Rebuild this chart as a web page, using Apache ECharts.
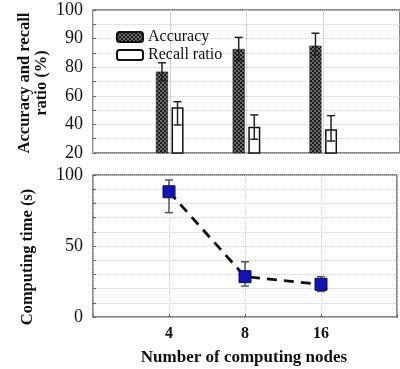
<!DOCTYPE html>
<html><head><meta charset="utf-8">
<script src="https://cdn.jsdelivr.net/npm/echarts@6/dist/echarts.min.js"></script>
<style>html,body{margin:0;padding:0;background:#fff}#c{width:400px;height:369px}</style>
</head><body><div id="c"></div>
<script>
// ---- data ----
const nodeLabels = ['4', '8', '16'];
const nodePos = [1, 2, 3];
const accuracy = [65.5, 78.2, 80.0];
const accuracyHigh = [70.5, 84.7, 87.0];
const accuracyLow = [60.5, 71.7, 74.8];
const recall = [45.6, 34.7, 33.3];
const recallHigh = [48.7, 41.3, 40.9];
const recallLow = [35.7, 27.7, 26.7];
const time = [88.2, 28.4, 23.0];
const timeHigh = [96.5, 38.9, 28.4];
const timeLow = [73.5, 21.8, 18.0];
const topTickLabels = ['20', '40', '60', '80', '90', '100'];

// ---- pattern for accuracy bars ----
const pc = document.createElement('canvas');
pc.width = 4; pc.height = 4;
const g = pc.getContext('2d');
g.fillStyle = '#1e1e1e'; g.fillRect(0, 0, 4, 4);
g.fillStyle = '#6a6a6a'; g.fillRect(0, 0, 2, 2); g.fillRect(2, 2, 2, 2);
const pattern = { image: pc, repeat: 'repeat' };

const serif = '"Liberation Serif", "Times New Roman", serif';
const gridLine = { show: true, lineStyle: { color: '#cfcfcf', type: 'dotted', width: 1 } };

function errRender(offset, color) {
  return function (params, api) {
    const x = api.value(0);
    const lo = api.coord([x, api.value(1)]);
    const hi = api.coord([x, api.value(2)]);
    const cx = lo[0] + offset;
    const st = { stroke: color, lineWidth: 1.5 };
    return { type: 'group', children: [
      { type: 'line', shape: { x1: cx, y1: lo[1], x2: cx, y2: hi[1] }, style: st },
      { type: 'line', shape: { x1: cx - 4, y1: hi[1], x2: cx + 4, y2: hi[1] }, style: st },
      { type: 'line', shape: { x1: cx - 4, y1: lo[1], x2: cx + 4, y2: lo[1] }, style: st }
    ] };
  };
}

const chart = echarts.init(document.getElementById('c'), null, { renderer: 'canvas' });
chart.setOption({
  animation: false,
  backgroundColor: '#fff',
  grid: [
    { left: 93, top: 10, width: 312, height: 143, show: true, borderColor: '#666', borderWidth: 1.5 },
    { left: 93, top: 175, width: 312, height: 142, show: true, borderColor: '#666', borderWidth: 1.5 }
  ],
  legend: {
    orient: 'vertical', left: 111, top: 24, itemWidth: 26, itemHeight: 10, itemGap: 2,
    data: ['Accuracy', 'Recall ratio'],
    textStyle: { fontFamily: serif, fontSize: 16, color: '#111' }
  },
  xAxis: [
    { type: 'value', gridIndex: 0, min: 0, max: 4, interval: 1,
      axisLine: { show: false }, axisTick: { show: false }, axisLabel: { show: false },
      splitLine: { show: true, lineStyle: { color: '#d4d4d4', width: 1 } } },
    { type: 'value', gridIndex: 1, min: 0, max: 4, interval: 1,
      axisLine: { show: false },
      axisTick: { show: true, inside: true, length: 3, lineStyle: { color: '#666' } },
      axisLabel: { show: true, margin: 9, fontFamily: serif, fontWeight: 'bold', fontSize: 16, color: '#111',
        formatter: v => { const i = nodePos.indexOf(v); return i >= 0 ? nodeLabels[i] : ''; } },
      splitLine: { show: true, lineStyle: { color: '#d4d4d4', width: 1, type: 'dotted' } } }
  ],
  yAxis: [
    { type: 'value', gridIndex: 0, min: 20, max: 100, interval: 16,
      axisLine: { show: false },
      axisTick: { show: true, inside: true, length: 3, lineStyle: { color: '#666' } },
      minorTick: { show: true, splitNumber: 2, length: 3, lineStyle: { color: '#666' } },
      axisLabel: { margin: 10, fontFamily: serif, fontSize: 18, color: '#111',
        formatter: v => topTickLabels[Math.round((v - 20) / 16)] },
      splitLine: gridLine, minorSplitLine: gridLine },
    { type: 'value', gridIndex: 1, min: 0, max: 100, interval: 50,
      axisLine: { show: false },
      axisTick: { show: true, inside: true, length: 3, lineStyle: { color: '#666' } },
      minorTick: { show: true, splitNumber: 5, length: 3, lineStyle: { color: '#666' } },
      axisLabel: { margin: 10, fontFamily: serif, fontSize: 18, color: '#111' },
      splitLine: gridLine, minorSplitLine: gridLine }
  ],
  series: [
    { name: 'Accuracy', type: 'bar', xAxisIndex: 0, yAxisIndex: 0, barWidth: 12, barGap: '30%',
      itemStyle: { color: pattern, borderColor: '#111', borderWidth: 0.5 },
      data: nodePos.map((x, i) => [x, accuracy[i]]) },
    { name: 'Recall ratio', type: 'bar', xAxisIndex: 0, yAxisIndex: 0, barWidth: 12, barGap: '30%',
      itemStyle: { color: '#fff', borderColor: '#111', borderWidth: 1.5 },
      data: nodePos.map((x, i) => [x, recall[i]]) },
    { type: 'custom', xAxisIndex: 0, yAxisIndex: 0, z: 5, renderItem: errRender(-7.8, '#222'),
      data: nodePos.map((x, i) => [x, accuracyLow[i], accuracyHigh[i]]) },
    { type: 'custom', xAxisIndex: 0, yAxisIndex: 0, z: 5, renderItem: errRender(7.8, '#222'),
      data: nodePos.map((x, i) => [x, recallLow[i], recallHigh[i]]) },
    { type: 'custom', xAxisIndex: 1, yAxisIndex: 1, z: 1, renderItem: errRender(0, '#555'),
      data: nodePos.map((x, i) => [x, timeLow[i], timeHigh[i]]) },
    { name: 'Computing time', type: 'line', xAxisIndex: 1, yAxisIndex: 1, z: 3,
      symbol: 'rect', symbolSize: 12,
      itemStyle: { color: '#1414b4', borderColor: '#0a0a50', borderWidth: 1 },
      lineStyle: { color: '#111', width: 2.8, type: [10, 7] },
      data: nodePos.map((x, i) => [x, time[i]]) }
  ],
  graphic: [
    { type: 'text', x: 33, y: 83, rotation: Math.PI / 2,
      style: { text: 'Accuracy and recall\nratio (%)', font: 'bold 16.5px ' + serif, fill: '#111',
        align: 'center', verticalAlign: 'middle', lineHeight: 17 } },
    { type: 'text', x: 28, y: 257, rotation: Math.PI / 2,
      style: { text: 'Computing time (s)', font: 'bold 16.5px ' + serif, fill: '#111',
        align: 'center', verticalAlign: 'middle' } },
    { type: 'text', x: 244, y: 358,
      style: { text: 'Number of computing nodes', font: 'bold 17px ' + serif, fill: '#111',
        align: 'center', verticalAlign: 'middle' } }
  ]
});
</script></body></html>
